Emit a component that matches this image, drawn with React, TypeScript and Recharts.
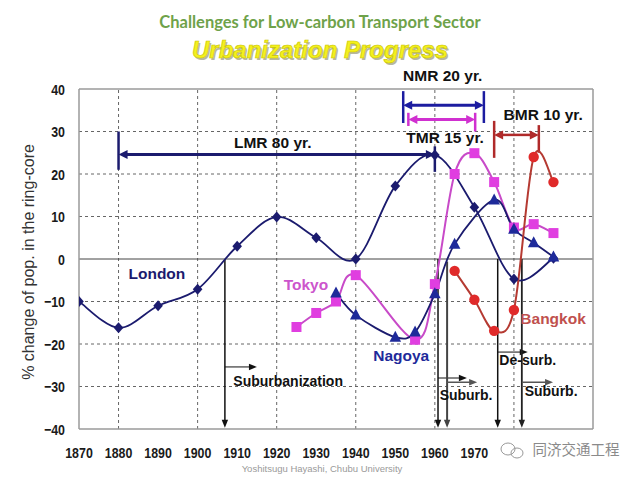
import React from 'react';
import { LineChart, Line, XAxis, YAxis, ReferenceLine, ReferenceDot } from 'recharts';

// ---------- data ----------
const londonYears = [1870, 1880, 1890, 1900, 1910, 1920, 1930, 1940, 1950, 1960, 1970, 1980, 1990];
const londonValues = [-10, -16.2, -11, -7.1, 3, 9.9, 5, 0, 17.2, 24.5, 12.2, -4.7, 0.2];
const tokyoYears = [1925, 1930, 1935, 1940, 1955, 1960, 1965, 1970, 1975, 1980, 1985, 1990];
const tokyoValues = [-16, -12.7, -10, -3.8, -19, -5.9, 20, 24.9, 18.1, 7.4, 8.2, 6.1];
const nagoyaYears = [1935, 1940, 1950, 1955, 1960, 1965, 1975, 1980, 1985, 1990];
const nagoyaValues = [-8, -13.2, -18.4, -17.2, -8.2, 3.5, 13.9, 7, 3.8, 0.5];
const bangkokYears = [1965, 1970, 1975, 1980, 1985, 1990];
const bangkokValues = [-2.8, -9.6, -16.9, -12, 24, 18.1];

const xTicks = [1870, 1880, 1890, 1900, 1910, 1920, 1930, 1940, 1950, 1960, 1970];
const yTicks = [-40, -30, -20, -10, 0, 10, 20, 30, 40];
const hGrid = [-30, -20, -10, 10, 20, 30];
const vGrid = [1880, 1900, 1920, 1940, 1960, 1980];

const zip = (xs: number[], ys: number[]) => xs.map((year, i) => ({ year, value: ys[i] }));
const londonData = zip(londonYears, londonValues);
const tokyoData = zip(tokyoYears, tokyoValues);
const nagoyaData = zip(nagoyaYears, nagoyaValues);
const bangkokData = zip(bangkokYears, bangkokValues);

// ---------- colours ----------
const NAVY = '#1b1b6e';
const BLUE = '#1e2a9a';
const MAGENTA = '#e03ee0';
const MAGENTA_LINE = '#c84ac8';
const RED = '#e02a2a';
const RED_LINE = '#b53a32';

// ---------- annotations (data coordinates) ----------
type Seg = { x1: number; y1: number; x2: number; y2: number; color: string; w: number; head: 'none' | 'end' | 'both' };
const segments: Seg[] = [
  { x1: 1880, y1: 30, x2: 1880, y2: 21, color: NAVY, w: 2.5, head: 'none' },
  { x1: 1960, y1: 26.5, x2: 1960, y2: 20.5, color: NAVY, w: 2.5, head: 'none' },
  { x1: 1880, y1: 24.6, x2: 1960, y2: 24.6, color: NAVY, w: 3, head: 'both' },
  { x1: 1952, y1: 39.5, x2: 1952, y2: 32, color: '#1c1ca0', w: 2.5, head: 'none' },
  { x1: 1972.4, y1: 39.5, x2: 1972.4, y2: 32, color: '#1c1ca0', w: 2.5, head: 'none' },
  { x1: 1952, y1: 36.2, x2: 1972.4, y2: 36.2, color: '#1c1ca0', w: 3, head: 'both' },
  { x1: 1953.3, y1: 34.4, x2: 1953.3, y2: 31.3, color: '#d030d0', w: 2.5, head: 'none' },
  { x1: 1970.2, y1: 34.4, x2: 1970.2, y2: 30, color: '#d030d0', w: 2.5, head: 'none' },
  { x1: 1953.3, y1: 32.8, x2: 1970.2, y2: 32.8, color: '#d030d0', w: 3, head: 'both' },
  { x1: 1975, y1: 32.5, x2: 1975, y2: 23.8, color: '#b02a2a', w: 2.5, head: 'none' },
  { x1: 1986.3, y1: 31.5, x2: 1986.3, y2: 25, color: '#b02a2a', w: 2.5, head: 'none' },
  { x1: 1975, y1: 29.2, x2: 1986.3, y2: 29.2, color: '#b02a2a', w: 2.5, head: 'both' },
  { x1: 1906.9, y1: 0, x2: 1906.9, y2: -39.7, color: '#111', w: 1.5, head: 'end' },
  { x1: 1906.9, y1: -25.4, x2: 1915, y2: -25.4, color: '#111', w: 1, head: 'end' },
  { x1: 1960.8, y1: 0, x2: 1960.8, y2: -39.7, color: '#111', w: 1.5, head: 'end' },
  { x1: 1960.8, y1: -28, x2: 1968.1, y2: -28, color: '#111', w: 1, head: 'end' },
  { x1: 1963.1, y1: -0.6, x2: 1963.1, y2: -39.7, color: '#444', w: 2, head: 'end' },
  { x1: 1963.1, y1: -29, x2: 1970.7, y2: -29, color: '#555', w: 1.5, head: 'end' },
  { x1: 1975.9, y1: 0, x2: 1975.9, y2: -39.7, color: '#111', w: 1.5, head: 'end' },
  { x1: 1975.9, y1: -21.9, x2: 1983.5, y2: -21.9, color: '#111', w: 1, head: 'end' },
  { x1: 1982, y1: 0, x2: 1982, y2: -39.7, color: '#222', w: 1.8, head: 'end' },
  { x1: 1982, y1: -29, x2: 1989.9, y2: -29, color: '#555', w: 1.5, head: 'end' },
];

type Lbl = { x: number; y: number; text: string; color: string; size: number };
const labels: Lbl[] = [
  { x: 1919, y: 27.5, text: 'LMR 80 yr.', color: '#111', size: 15.5 },
  { x: 1962, y: 43.2, text: 'NMR 20 yr.', color: '#111', size: 15.5 },
  { x: 1962.6, y: 28.5, text: 'TMR 15 yr.', color: '#111', size: 15.5 },
  { x: 1987.4, y: 33.9, text: 'BMR 10 yr.', color: '#111', size: 15.5 },
  { x: 1922.9, y: -28.6, text: 'Suburbanization', color: '#111', size: 14 },
  { x: 1967.9, y: -32, text: 'Suburb.', color: '#111', size: 14 },
  { x: 1983.5, y: -23.8, text: 'De-surb.', color: '#111', size: 14 },
  { x: 1989.4, y: -31, text: 'Suburb.', color: '#111', size: 14 },
  { x: 1889.7, y: -3.3, text: 'London', color: NAVY, size: 15.5 },
  { x: 1927.4, y: -5.9, text: 'Tokyo', color: '#cc55cc', size: 15.5 },
  { x: 1951.5, y: -22.6, text: 'Nagoya', color: BLUE, size: 15.5 },
  { x: 1989.9, y: -14.1, text: 'Bangkok', color: '#c0504d', size: 15.5 },
];

// ---------- Excel-like smooth curve (Catmull-Rom) ----------
const smoothCurve: any = (context: any) => {
  let pts: number[][] = [];
  return {
    areaStart() {},
    areaEnd() {},
    lineStart() {
      pts = [];
    },
    point(x: number, y: number) {
      pts.push([+x, +y]);
    },
    lineEnd() {
      if (!pts.length) return;
      context.moveTo(pts[0][0], pts[0][1]);
      for (let i = 0; i < pts.length - 1; i++) {
        const p0 = pts[i - 1] || pts[i];
        const p1 = pts[i];
        const p2 = pts[i + 1];
        const p3 = pts[i + 2] || pts[i + 1];
        const c1x = p1[0] + (p2[0] - p0[0]) / 6;
        const c1y = p1[1] + (p2[1] - p0[1]) / 6;
        const c2x = p2[0] - (p3[0] - p1[0]) / 6;
        const c2y = p2[1] - (p3[1] - p1[1]) / 6;
        context.bezierCurveTo(c1x, c1y, c2x, c2y, p2[0], p2[1]);
      }
    },
  };
};

// ---------- marker shapes ----------
const diamondDot = (p: any) => {
  const { cx, cy, index } = p;
  return <path key={`dm-${index}`} d={`M${cx},${cy - 5.5}L${cx + 4.8},${cy}L${cx},${cy + 5.5}L${cx - 4.8},${cy}Z`} fill={NAVY} />;
};
const squareDot = (p: any) => {
  const { cx, cy, index } = p;
  return <rect key={`sq-${index}`} x={cx - 5} y={cy - 5} width={10} height={10} fill={MAGENTA} />;
};
const triangleDot = (p: any) => {
  const { cx, cy, index } = p;
  return <path key={`tr-${index}`} d={`M${cx},${cy - 6.5}L${cx + 5.8},${cy + 4.5}L${cx - 5.8},${cy + 4.5}Z`} fill={BLUE} />;
};
const circleDot = (p: any) => {
  const { cx, cy, index } = p;
  return <circle key={`ci-${index}`} cx={cx} cy={cy} r={5.2} fill={RED} />;
};

const arrowShape = (seg: Seg) => (p: any) => {
  const { x1, y1, x2, y2 } = p;
  const dx = x2 - x1;
  const dy = y2 - y1;
  const len = Math.sqrt(dx * dx + dy * dy) || 1;
  const ux = dx / len;
  const uy = dy / len;
  const hl = seg.w >= 2.5 ? 9 : 8;
  const hw = seg.w >= 2.5 ? 4.5 : 3.2;
  const head = (tx: number, ty: number, dirx: number, diry: number) => {
    const bx = tx - dirx * hl;
    const by = ty - diry * hl;
    return `M${tx},${ty}L${bx - diry * hw},${by + dirx * hw}L${bx + diry * hw},${by - dirx * hw}Z`;
  };
  let sx = x1, sy = y1, ex = x2, ey = y2;
  if (seg.head === 'end' || seg.head === 'both') {
    ex = x2 - ux * (hl - 2);
    ey = y2 - uy * (hl - 2);
  }
  if (seg.head === 'both') {
    sx = x1 + ux * (hl - 2);
    sy = y1 + uy * (hl - 2);
  }
  return (
    <g>
      <line x1={sx} y1={sy} x2={ex} y2={ey} stroke={seg.color} strokeWidth={seg.w} />
      {(seg.head === 'end' || seg.head === 'both') && <path d={head(x2, y2, ux, uy)} fill={seg.color} />}
      {seg.head === 'both' && <path d={head(x1, y1, -ux, -uy)} fill={seg.color} />}
    </g>
  );
};

const textShape = (l: Lbl) => (p: any) => (
  <text
    x={p.cx}
    y={p.cy}
    textAnchor="middle"
    dominantBaseline="central"
    fontFamily="'Liberation Sans', Arial, sans-serif"
    fontWeight="bold"
    fontSize={l.size}
    fill={l.color}
  >
    {l.text}
  </text>
);

const tickFont = "'Liberation Sans', Arial, sans-serif";
const fmtY = (v: number) => (v < 0 ? `\u2212${Math.abs(v)}` : `${v}`);

const XTick = (p: any) => (
  <g transform={`translate(${p.x},${p.y})`}>
    <text x={0} y={0} dy="0.71em" textAnchor="middle" transform="scale(0.8,1)" fontFamily={tickFont} fontSize={15.5} fontWeight={600} fill="#1a1a1a">
      {p.payload.value}
    </text>
  </g>
);
const YTick = (p: any) => (
  <g transform={`translate(${p.x},${p.y})`}>
    <text x={0} y={0} dy="0.36em" textAnchor="end" transform="scale(0.8,1)" fontFamily={tickFont} fontSize={15.5} fontWeight={600} fill="#1a1a1a">
      {fmtY(p.payload.value)}
    </text>
  </g>
);

export default function App() {
  return (
    <div style={{ position: 'absolute', left: 0, top: 0, width: 640, height: 480, background: '#fff' }}>
      <div style={{ position: 'absolute', left: 0, top: 0 }}>
        <LineChart width={640} height={480} margin={{ top: 89, right: 47, bottom: 21, left: 19 }}>
          <XAxis
            dataKey="year"
            type="number"
            domain={[1870, 2000]}
            ticks={xTicks}
            allowDataOverflow
            height={30}
            tickLine={false}
            tickMargin={12}
            axisLine={{ stroke: '#9a9a9a', strokeWidth: 1.5 }}
            tick={<XTick />}
          />
          <YAxis
            type="number"
            domain={[-40, 40]}
            ticks={yTicks}
            allowDataOverflow
            width={60}
            tickLine={false}
            tickMargin={8}
            axisLine={{ stroke: '#9a9a9a', strokeWidth: 1.5 }}
            tick={<YTick />}
          />
          {hGrid.map((v) => (
            <ReferenceLine key={`h${v}`} y={v} stroke="#666" strokeWidth={1} strokeDasharray="3 3" />
          ))}
          {vGrid.map((v) => (
            <ReferenceLine key={`v${v}`} x={v} stroke="#666" strokeWidth={1} strokeDasharray="3 3" />
          ))}
          <ReferenceLine y={0} stroke="#444" strokeWidth={1} />
          <ReferenceLine y={40} stroke="#9a9a9a" strokeWidth={1.5} />
          <ReferenceLine x={2000} stroke="#9a9a9a" strokeWidth={1.5} />
          {segments.map((s, i) => (
            <ReferenceLine
              key={`s${i}`}
              segment={[{ x: s.x1, y: s.y1 }, { x: s.x2, y: s.y2 }]}
              ifOverflow="visible"
              shape={arrowShape(s)}
            />
          ))}
          <Line data={londonData} dataKey="value" type={smoothCurve} stroke={NAVY} strokeWidth={1.8} dot={diamondDot} activeDot={false} isAnimationActive={false} />
          <Line data={tokyoData} dataKey="value" type={smoothCurve} stroke={MAGENTA_LINE} strokeWidth={2} dot={squareDot} activeDot={false} isAnimationActive={false} />
          <Line data={nagoyaData} dataKey="value" type={smoothCurve} stroke={NAVY} strokeWidth={1.8} dot={triangleDot} activeDot={false} isAnimationActive={false} />
          <Line data={bangkokData} dataKey="value" type={smoothCurve} stroke={RED_LINE} strokeWidth={2} dot={circleDot} activeDot={false} isAnimationActive={false} />
          {labels.map((l, i) => (
            <ReferenceDot key={`l${i}`} x={l.x} y={l.y} r={0} ifOverflow="visible" shape={textShape(l)} />
          ))}
        </LineChart>
      </div>
      <svg width={640} height={480} style={{ position: 'absolute', left: 0, top: 0, pointerEvents: 'none' }}>
        <text x={320} y={28} textAnchor="middle" fontFamily="Lato, 'Open Sans', sans-serif" fontWeight="bold" fontSize={16.5} fill="#6ea24a">
          Challenges for Low-carbon Transport Sector
        </text>
        <text x={321.5} y={59.5} textAnchor="middle" fontFamily="'Liberation Sans', Arial, sans-serif" fontWeight="bold" fontStyle="italic" fontSize={24} fill="#8a8a60" opacity={0.6}>
          Urbanization Progress
        </text>
        <text x={320} y={58} textAnchor="middle" fontFamily="'Liberation Sans', Arial, sans-serif" fontWeight="bold" fontStyle="italic" fontSize={24} fill="#f4f01e" stroke="#c8c400" strokeWidth={0.6}>
          Urbanization Progress
        </text>
        <text
          x={0}
          y={0}
          transform="translate(34,262) rotate(-90)"
          textAnchor="middle"
          fontFamily="'Liberation Sans', Arial, sans-serif"
          fontSize={16}
          fill="#333"
        >
          % change of pop. in the ring-core
        </text>
        <text x={322} y={472} textAnchor="middle" fontFamily="'Liberation Sans', Arial, sans-serif" fontSize={9.5} fill="#9a9a9a">
          Yoshitsugu Hayashi, Chubu University
        </text>
        <ellipse cx={508} cy={449} rx={7} ry={6} fill="none" stroke="#999" strokeWidth={1} />
        <ellipse cx={517} cy={453} rx={6} ry={5} fill="none" stroke="#999" strokeWidth={1} />
        <text x={576} y={455} textAnchor="middle" fontFamily="'Noto Sans CJK SC', sans-serif" fontSize={14.5} fill="#8a8a8a">
          同济交通工程
        </text>
      </svg>
    </div>
  );
}
